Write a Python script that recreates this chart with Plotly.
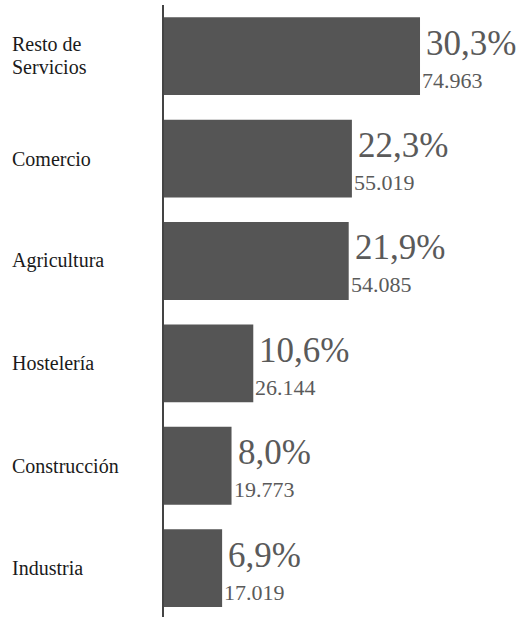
import plotly.graph_objects as go

categories = ["Resto de Servicios", "Comercio", "Agricultura", "Hostelería", "Construcción", "Industria"]
label_lines = [["Resto de", "Servicios"], ["Comercio"], ["Agricultura"], ["Hostelería"], ["Construcción"], ["Industria"]]
counts = [74963, 55019, 54085, 26144, 19773, 17019]
percents = [30.3, 22.3, 21.9, 10.6, 8.0, 6.9]

n = len(categories)
ypos = [n - 1 - i for i in range(n)]

BAR = "#555555"
TXT = "#5a5a5a"
FONT = "Liberation Serif"

fig = go.Figure()
fig.add_trace(go.Bar(
    x=counts, y=ypos, orientation="h", width=0.76,
    marker=dict(color=BAR, line=dict(width=0)),
    hoverinfo="skip",
))

ann = []
for i in range(n):
    y = ypos[i]
    lines = label_lines[i]
    if len(lines) == 1:
        ann.append(dict(x=-0.4199, xref="paper", y=y, yref="y", text=lines[0],
                        xanchor="left", yanchor="middle", xshift=-2, showarrow=False,
                        font=dict(family=FONT, size=20, color="#1a1a1a")))
    else:
        for txt, sh in zip(lines, [12, -11]):
            ann.append(dict(x=-0.4199, xref="paper", y=y, yref="y", text=txt,
                            xanchor="left", yanchor="middle", xshift=-2, yshift=sh, showarrow=False,
                            font=dict(family=FONT, size=20, color="#1a1a1a")))
    pct = f"{percents[i]:.1f}".replace(".", ",") + "%"
    ann.append(dict(x=counts[i], xref="x", y=y, yref="y", text=pct,
                    xanchor="left", yanchor="middle", xshift=4, yshift=13, showarrow=False,
                    font=dict(family=FONT, size=35, color=TXT)))
    cnt = f"{counts[i]:,}".replace(",", ".")
    ann.append(dict(x=counts[i], xref="x", y=y, yref="y", text=cnt,
                    xanchor="left", yanchor="middle", xshift=0, yshift=-24, showarrow=False,
                    font=dict(family=FONT, size=22, color=TXT)))

fig.update_layout(
    width=526, height=617,
    margin=dict(l=164, r=0, t=5, b=0),
    paper_bgcolor="white", plot_bgcolor="white",
    showlegend=False,
    annotations=ann,
    xaxis=dict(range=[0, 106000], visible=False, fixedrange=True),
    yaxis=dict(range=[-0.477, 5.5], showticklabels=False, ticks="", showgrid=False,
               zeroline=False, showline=True, linecolor="#444444", linewidth=2,
               fixedrange=True),
    bargap=0.24,
)

fig.write_html("out.html", config={"displayModeBar": False},
               post_script="document.body.style.margin='0';document.body.style.overflow='hidden';")
